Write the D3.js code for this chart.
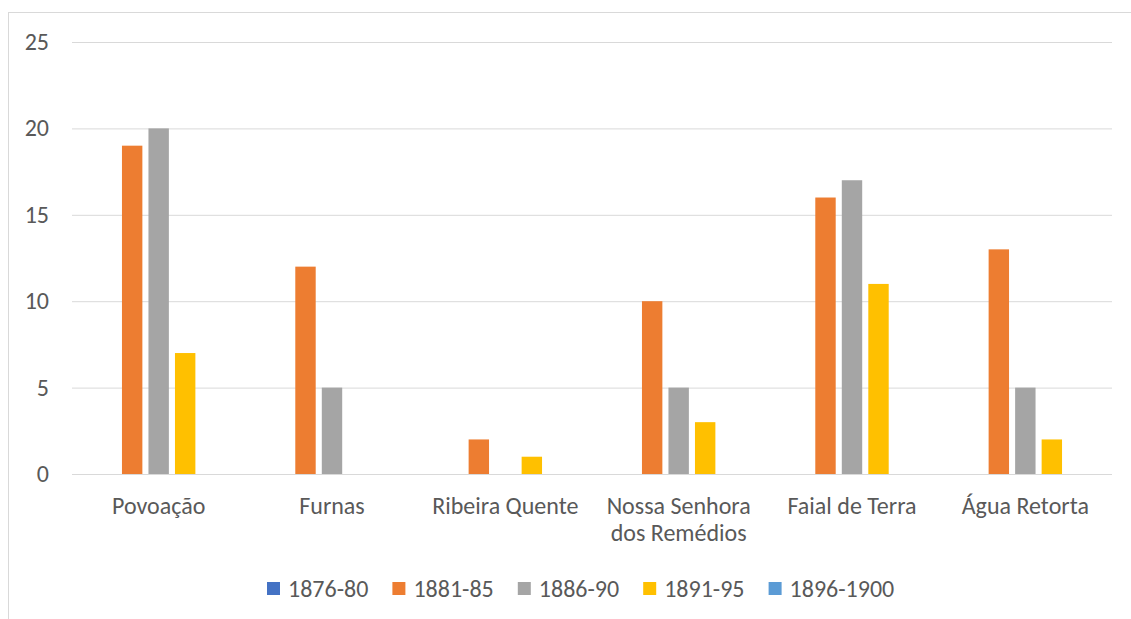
<!DOCTYPE html>
<html lang="pt">
<head>
<meta charset="UTF-8">
<title>chart</title>
<style>
  body { margin: 0; background: #fff; }
  text { font-family: Carlito, "Liberation Sans Narrow", "Open Sans", sans-serif; fill: #595959; }
</style>
</head>
<body>
<div id="chart"></div>
<script src="https://d3js.org/d3.v7.min.js"></script>
<script>
var categories = ['Povoação', 'Furnas', 'Ribeira Quente', 'Nossa Senhora dos Remédios', 'Faial de Terra', 'Água Retorta'];
var catLines = [['Povoação'], ['Furnas'], ['Ribeira Quente'], ['Nossa Senhora', 'dos Remédios'], ['Faial de Terra'], ['Água Retorta']];
var seriesNames = ['1876-80', '1881-85', '1886-90', '1891-95', '1896-1900'];
var colors = ['#4472c4', '#ed7d31', '#a5a5a5', '#ffc000', '#5b9bd5'];
var s1876 = [0, 0, 0, 0, 0, 0];
var s1881 = [19, 12, 2, 10, 16, 13];
var s1886 = [20, 5, 0, 5, 17, 5];
var s1891 = [7, 0, 1, 3, 11, 2];
var s1896 = [0, 0, 0, 0, 0, 0];
var series = [s1876, s1881, s1886, s1891, s1896];
var yTicks = [0, 5, 10, 15, 20, 25];

var W = 1131, H = 619;
var plotL = 72, plotR = 1112, plotT = 42, plotB = 474;

var svg = d3.select('#chart').append('svg')
  .attr('width', W).attr('height', H);

// outer chart border
svg.append('rect')
  .attr('x', 8.5).attr('y', 12.5)
  .attr('width', W + 10).attr('height', H + 10)
  .attr('fill', 'none').attr('stroke', '#d9d9d9').attr('stroke-width', 1);

var x0 = d3.scaleBand().domain(categories).range([plotL, plotR]);
var x1 = d3.scaleBand().domain(seriesNames).range([0, x0.bandwidth()]).paddingInner(0.23).paddingOuter(0.885);
var y = d3.scaleLinear().domain([0, 25]).range([plotB, plotT]);

// gridlines
svg.append('g')
  .attr('transform', `translate(${plotL},0)`)
  .call(d3.axisLeft(y).tickValues(yTicks).tickSize(-(plotR - plotL)).tickFormat(''))
  .call(g => g.select('.domain').remove())
  .call(g => g.selectAll('line').attr('stroke', '#d9d9d9').attr('stroke-width', 1));

// y labels
svg.append('g')
  .selectAll('text')
  .data(yTicks)
  .join('text')
  .attr('x', 49).attr('y', d => y(d) + 8)
  .attr('text-anchor', 'end')
  .style('font-size', '24px')
  .text(d => d);

// bars
series.forEach((vals, si) => {
  svg.append('g')
    .selectAll('rect')
    .data(vals)
    .join('rect')
    .attr('x', (d, i) => x0(categories[i]) + x1(seriesNames[si]))
    .attr('y', d => y(d))
    .attr('width', x1.bandwidth())
    .attr('height', d => y(0) - y(d))
    .attr('fill', colors[si]);
});

// category labels
var cl = svg.append('g').selectAll('text')
  .data(categories)
  .join('text')
  .attr('x', d => x0(d) + x0.bandwidth() / 2)
  .attr('y', 514)
  .attr('text-anchor', 'middle')
  .style('font-size', '24px');
cl.each(function (d, i) {
  d3.select(this).selectAll('tspan')
    .data(catLines[i])
    .join('tspan')
    .attr('x', x0(d) + x0.bandwidth() / 2)
    .attr('dy', (t, j) => j === 0 ? 0 : 27)
    .text(t => t);
});

// legend
var lx = d3.scaleBand().domain(seriesNames).range([267, 894]);
var lg = svg.append('g').selectAll('g')
  .data(seriesNames)
  .join('g')
  .attr('transform', d => `translate(${lx(d)},582)`);
lg.append('rect').attr('width', 13).attr('height', 13).attr('fill', (d, i) => colors[i]);
lg.append('text').attr('x', 21).attr('y', 15).style('font-size', '24px').text(d => d);
</script>
</body>
</html>
